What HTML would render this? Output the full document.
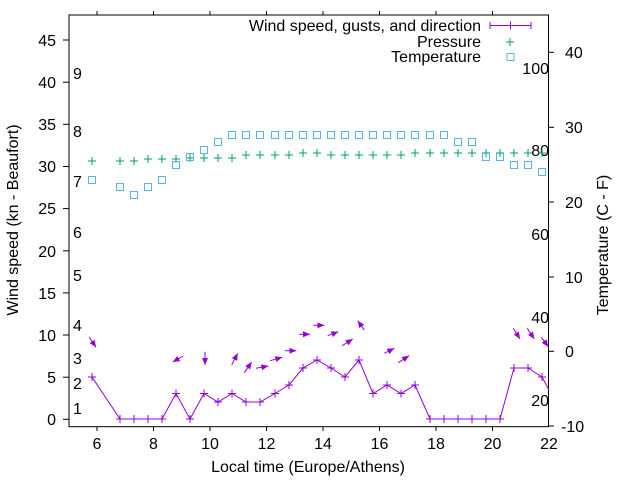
<!DOCTYPE html>
<html><head><meta charset="utf-8"><style>
html,body{margin:0;padding:0;background:#fff;}
svg{display:block;font-family:"Liberation Sans",sans-serif;}
</style></head><body>
<svg width="640" height="480" viewBox="0 0 640 480" xmlns="http://www.w3.org/2000/svg">
<defs>
<marker id="ah" markerWidth="8" markerHeight="8" refX="7" refY="4" orient="auto" markerUnits="userSpaceOnUse">
<path d="M0,1 L7,4 L0,7 Z" fill="#9400d3"/>
</marker>
</defs>
<rect width="640" height="480" fill="#fff"/>
<!-- frame -->
<rect x="69" y="15" width="479.5" height="411.7" fill="none" stroke="#000" stroke-width="1"/>
<g stroke="#000" stroke-width="1">
<!-- left ticks -->
<line x1="63" y1="419.3" x2="69" y2="419.3"/><line x1="63" y1="377.2" x2="69" y2="377.2"/>
<line x1="63" y1="335" x2="69" y2="335"/><line x1="63" y1="292.9" x2="69" y2="292.9"/>
<line x1="63" y1="250.8" x2="69" y2="250.8"/><line x1="63" y1="208.6" x2="69" y2="208.6"/>
<line x1="63" y1="166.5" x2="69" y2="166.5"/><line x1="63" y1="124.3" x2="69" y2="124.3"/>
<line x1="63" y1="82.2" x2="69" y2="82.2"/><line x1="63" y1="40" x2="69" y2="40"/>
<!-- right ticks -->
<line x1="548.5" y1="426" x2="554" y2="426"/><line x1="548.5" y1="351.3" x2="554" y2="351.3"/>
<line x1="548.5" y1="277" x2="554" y2="277"/><line x1="548.5" y1="202" x2="554" y2="202"/>
<line x1="548.5" y1="127.3" x2="554" y2="127.3"/><line x1="548.5" y1="52.3" x2="554" y2="52.3"/>
<!-- bottom/top ticks -->
<line x1="97" y1="426.7" x2="97" y2="431"/><line x1="153.5" y1="426.7" x2="153.5" y2="431"/>
<line x1="210" y1="426.7" x2="210" y2="431"/><line x1="266.5" y1="426.7" x2="266.5" y2="431"/>
<line x1="323" y1="426.7" x2="323" y2="431"/><line x1="379.5" y1="426.7" x2="379.5" y2="431"/>
<line x1="436" y1="426.7" x2="436" y2="431"/><line x1="492.5" y1="426.7" x2="492.5" y2="431"/>
<line x1="97" y1="11" x2="97" y2="15"/><line x1="153.5" y1="11" x2="153.5" y2="15"/>
<line x1="210" y1="11" x2="210" y2="15"/><line x1="266.5" y1="11" x2="266.5" y2="15"/>
<line x1="323" y1="11" x2="323" y2="15"/><line x1="379.5" y1="11" x2="379.5" y2="15"/>
<line x1="436" y1="11" x2="436" y2="15"/><line x1="492.5" y1="11" x2="492.5" y2="15"/>
</g>
<!-- left tick labels -->
<g font-size="16" fill="#000" text-anchor="end">
<text x="56" y="425">0</text><text x="56" y="383">5</text><text x="56" y="341">10</text>
<text x="56" y="299">15</text><text x="56" y="257">20</text><text x="56" y="214">25</text>
<text x="56" y="172">30</text><text x="56" y="130">35</text><text x="56" y="88">40</text>
<text x="56" y="46">45</text>
</g>
<!-- right tick labels -->
<g font-size="16" fill="#000" text-anchor="start">
<text x="561" y="432">-10</text><text x="565" y="357">0</text><text x="565" y="283">10</text>
<text x="565" y="208">20</text><text x="565" y="133">30</text><text x="565" y="58">40</text>
</g>
<!-- bottom labels -->
<g font-size="16" fill="#000" text-anchor="middle">
<text x="97" y="449">6</text><text x="153.5" y="449">8</text><text x="210" y="449">10</text>
<text x="266.5" y="449">12</text><text x="323" y="449">14</text><text x="379.5" y="449">16</text>
<text x="436" y="449">18</text><text x="492.5" y="449">20</text><text x="549" y="449">22</text>
</g>
<text x="308" y="472" font-size="16" text-anchor="middle">Local time (Europe/Athens)</text>
<text transform="translate(18,220) rotate(-90)" font-size="16" text-anchor="middle">Wind speed (kn - Beaufort)</text>
<text transform="translate(608,245) rotate(-90)" font-size="16" text-anchor="middle">Temperature (C - F)</text>
<!-- Beaufort labels -->
<g font-size="16" fill="#000">
<text x="73" y="414">1</text><text x="73" y="389">2</text><text x="73" y="364">3</text>
<text x="73" y="331">4</text><text x="73" y="281">5</text><text x="73" y="238">6</text>
<text x="73" y="187">7</text><text x="73" y="137">8</text><text x="73" y="79">9</text>
</g>
<!-- F labels -->
<g font-size="16" fill="#000" text-anchor="end">
<text x="549" y="74">100</text><text x="549" y="156">80</text><text x="549" y="240">60</text>
<text x="549" y="323">40</text><text x="549" y="406">20</text>
</g>
<!-- pressure -->
<g stroke="#009e73" stroke-width="1" fill="none" id="pr">
<path d="M88,161h8M92,157v8 M116,161h8M120,157v8 M130,161h8M134,157v8 M144,159h8M148,155v8 M158,159h8M162,155v8 M172,159h8M176,155v8 M186,158h8M190,154v8 M200,158h8M204,154v8 M214,158h8M218,154v8 M228,158h8M232,154v8 M242,155h8M246,151v8 M256,155h8M260,151v8 M271,155h8M275,151v8 M285,155h8M289,151v8 M299,153h8M303,149v8 M313,153h8M317,149v8 M327,155h8M331,151v8 M341,155h8M345,151v8 M355,155h8M359,151v8 M369,155h8M373,151v8 M383,155h8M387,151v8 M397,155h8M401,151v8 M411,153h8M415,149v8 M426,153h8M430,149v8 M440,153h8M444,149v8 M454,153h8M458,149v8 M468,153h8M472,149v8 M482,153h8M486,149v8 M496,153h8M500,149v8 M510,153h8M514,149v8 M524,153h8M528,149v8 M538,153h8M542,149v8"/>
</g>
<!-- temperature -->
<g stroke="#56b4e9" stroke-width="1" fill="none">
<rect x="88.5" y="176.5" width="7" height="7"/><rect x="116.5" y="183.5" width="7" height="7"/>
<rect x="130.5" y="191.5" width="7" height="7"/><rect x="144.5" y="183.5" width="7" height="7"/>
<rect x="158.5" y="176.5" width="7" height="7"/><rect x="172.5" y="161.5" width="7" height="7"/>
<rect x="186.5" y="153.5" width="7" height="7"/><rect x="200.5" y="146.5" width="7" height="7"/>
<rect x="214.5" y="138.5" width="7" height="7"/>
<rect x="228.5" y="131.5" width="7" height="7"/><rect x="242.5" y="131.5" width="7" height="7"/>
<rect x="256.5" y="131.5" width="7" height="7"/><rect x="271.5" y="131.5" width="7" height="7"/>
<rect x="285.5" y="131.5" width="7" height="7"/><rect x="299.5" y="131.5" width="7" height="7"/>
<rect x="313.5" y="131.5" width="7" height="7"/><rect x="327.5" y="131.5" width="7" height="7"/>
<rect x="341.5" y="131.5" width="7" height="7"/><rect x="355.5" y="131.5" width="7" height="7"/>
<rect x="369.5" y="131.5" width="7" height="7"/><rect x="383.5" y="131.5" width="7" height="7"/>
<rect x="397.5" y="131.5" width="7" height="7"/><rect x="411.5" y="131.5" width="7" height="7"/>
<rect x="426.5" y="131.5" width="7" height="7"/><rect x="440.5" y="131.5" width="7" height="7"/>
<rect x="454.5" y="138.5" width="7" height="7"/><rect x="468.5" y="138.5" width="7" height="7"/>
<rect x="482.5" y="153.5" width="7" height="7"/><rect x="496.5" y="153.5" width="7" height="7"/>
<rect x="510.5" y="161.5" width="7" height="7"/><rect x="524.5" y="161.5" width="7" height="7"/>
<rect x="538.5" y="168.5" width="7" height="7"/>
</g>
<!-- wind -->
<g stroke="#9400d3" stroke-width="1" fill="none">
<path d="M92,377 L120,419 L134,419 L148,419 L162,419 L176,393.5 L190,419 L204,393.5 L218,402 L232,393.5 L246,402 L260,402 L275,393.5 L289,385 L303,368 L317,360 L331,368 L345,377 L359,360 L373,393.5 L387,385 L401,393.5 L415,385 L430,419 L444,419 L458,419 L472,419 L486,419 L500,419 L514,368 L528,368 L542,377 L549,390"/>
<path d="M88,377h8M92,373v8 M116,419h8M120,415v8 M130,419h8M134,415v8 M144,419h8M148,415v8 M158,419h8M162,415v8 M172,393.5h8M176,389.5v8 M186,419h8M190,415v8 M200,393.5h8M204,389.5v8 M214,402h8M218,398v8 M228,393.5h8M232,389.5v8 M242,402h8M246,398v8 M256,402h8M260,398v8 M271,393.5h8M275,389.5v8 M285,385h8M289,381v8 M299,368h8M303,364v8 M313,360h8M317,356v8 M327,368h8M331,364v8 M341,377h8M345,373v8 M355,360h8M359,356v8 M369,393.5h8M373,389.5v8 M383,385h8M387,381v8 M397,393.5h8M401,389.5v8 M411,385h8M415,381v8 M426,419h8M430,415v8 M440,419h8M444,415v8 M454,419h8M458,415v8 M468,419h8M472,415v8 M482,419h8M486,415v8 M496,419h8M500,415v8 M510,368h8M514,364v8 M524,368h8M528,364v8 M538,377h8M542,373v8"/>
</g>
<!-- wind direction arrows -->
<g stroke="#9400d3" stroke-width="1" marker-end="url(#ah)">
<line x1="89.3" y1="337.3" x2="96" y2="347.3"/>
<line x1="183.3" y1="356" x2="172.7" y2="362"/>
<line x1="205" y1="351.7" x2="205" y2="365"/>
<line x1="231.7" y1="365" x2="237.7" y2="353.3"/>
<line x1="244.3" y1="372.7" x2="251.7" y2="362"/>
<line x1="256" y1="368.3" x2="268.3" y2="366"/>
<line x1="270" y1="360.7" x2="282.3" y2="357.3"/>
<line x1="285" y1="350.7" x2="296.3" y2="350.7"/>
<line x1="299.3" y1="334.3" x2="310" y2="334.3"/>
<line x1="313.3" y1="325.3" x2="324.3" y2="325.3"/>
<line x1="327.7" y1="335.7" x2="338.3" y2="331.7"/>
<line x1="342.3" y1="345.7" x2="352.7" y2="339"/>
<line x1="364.3" y1="330" x2="357.7" y2="320.7"/>
<line x1="384.3" y1="353.3" x2="394.3" y2="348.3"/>
<line x1="398.3" y1="362.7" x2="409" y2="355.7"/>
<line x1="513.3" y1="328.3" x2="520" y2="339"/>
<line x1="527.3" y1="328.3" x2="534.3" y2="339"/>
<line x1="541.3" y1="337.3" x2="548.3" y2="346.7"/>
</g>
<!-- legend -->
<g font-size="16" fill="#000" text-anchor="end">
<text x="481" y="31">Wind speed, gusts, and direction</text>
<text x="481" y="47">Pressure</text>
<text x="481" y="62">Temperature</text>
</g>
<g stroke="#9400d3" stroke-width="1">
<path d="M490,25.5h41 M490,22v7 M531,22v7 M510.5,21.5v8"/>
</g>
<path d="M506,42h8M510,38v8" stroke="#009e73" stroke-width="1"/>
<rect x="507" y="53.5" width="7" height="7" fill="none" stroke="#56b4e9" stroke-width="1"/>
</svg>
</body></html>
